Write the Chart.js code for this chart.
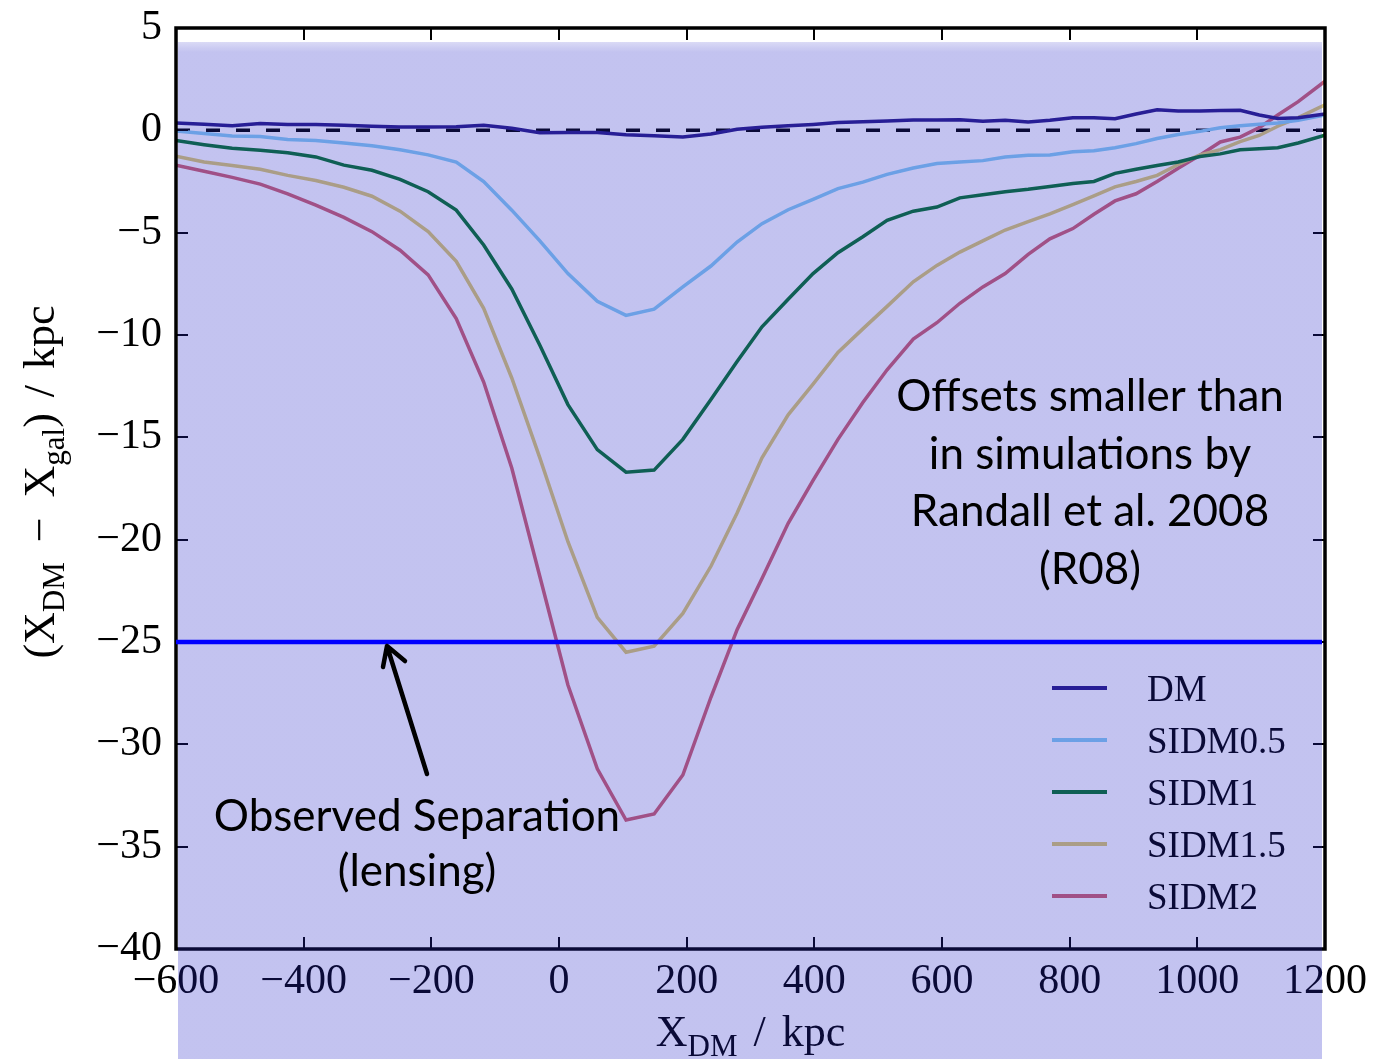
<!DOCTYPE html>
<html>
<head>
<meta charset="utf-8">
<script src="https://cdn.jsdelivr.net/npm/chart.js@4.4.1/dist/chart.umd.min.js"></script>
<style>
  html, body { margin: 0; padding: 0; background: #fff; }
  #wrap { width: 1375px; height: 1059px; position: relative; }
</style>
</head>
<body>
<div id="wrap"><canvas id="chart"></canvas></div>
<script>
// ---- data (x = X_DM in kpc, y = X_DM - X_gal in kpc)
const seriesNames = ["DM", "SIDM0.5", "SIDM1", "SIDM1.5", "SIDM2"];
const xKpc = [-600, -556, -512, -468, -425, -381, -337, -293, -249, -205, -161, -118, -74, -30,
  14, 60, 105, 149, 194, 238, 279, 318, 359, 398, 437, 476, 514, 555,
  592, 628, 664, 699, 735, 769, 805, 838, 871, 904, 937, 970, 1004, 1036, 1067, 1097, 1126, 1158, 1200];
const dm = [0.36, 0.3, 0.23, 0.33, 0.28, 0.28, 0.25, 0.2, 0.16, 0.16, 0.18, 0.25, 0.1, -0.12,
  -0.11, -0.11, -0.22, -0.27, -0.32, -0.18, 0.05, 0.15, 0.22, 0.29, 0.38, 0.42, 0.45, 0.5,
  0.5, 0.52, 0.44, 0.49, 0.41, 0.49, 0.62, 0.62, 0.57, 0.8, 1.0, 0.94, 0.94, 0.97, 0.98, 0.75, 0.58, 0.62, 0.8];
const sidm05 = [-0.03, -0.15, -0.28, -0.3, -0.45, -0.5, -0.62, -0.75, -0.95, -1.2, -1.55, -2.5, -3.9, -5.4,
  -7.0, -8.35, -9.04, -8.74, -7.65, -6.63, -5.46, -4.56, -3.88, -3.37, -2.85, -2.53, -2.15, -1.84,
  -1.62, -1.55, -1.48, -1.3, -1.22, -1.2, -1.05, -1.0, -0.85, -0.65, -0.4, -0.2, -0.05, 0.13, 0.22, 0.3, 0.36, 0.49, 0.75];
const sidm1 = [-0.49, -0.7, -0.88, -0.97, -1.1, -1.3, -1.7, -1.95, -2.4, -3.0, -3.9, -5.6, -7.75, -10.5,
  -13.4, -15.6, -16.7, -16.6, -15.1, -13.15, -11.3, -9.6, -8.25, -7.0, -5.98, -5.2, -4.4, -3.95,
  -3.75, -3.3, -3.15, -3.0, -2.88, -2.74, -2.6, -2.5, -2.1, -1.9, -1.72, -1.55, -1.28, -1.15, -0.95, -0.9, -0.85, -0.62, -0.24];
const sidm15 = [-1.27, -1.55, -1.72, -1.9, -2.2, -2.45, -2.78, -3.22, -3.95, -4.95, -6.4, -8.7, -12.1, -16.0,
  -20.1, -23.8, -25.5, -25.2, -23.6, -21.3, -18.7, -16.0, -13.9, -12.4, -10.85, -9.7, -8.6, -7.4,
  -6.6, -5.95, -5.4, -4.87, -4.46, -4.08, -3.63, -3.2, -2.76, -2.5, -2.2, -1.67, -1.2, -0.94, -0.55, -0.25, 0.2, 0.62, 1.25];
const sidm2 = [-1.71, -2.0, -2.3, -2.63, -3.1, -3.65, -4.25, -4.95, -5.86, -7.06, -9.2, -12.3, -16.5, -21.8,
  -27.1, -31.2, -33.7, -33.4, -31.5, -27.7, -24.4, -21.9, -19.2, -17.1, -15.1, -13.3, -11.7, -10.2,
  -9.4, -8.45, -7.65, -7.0, -6.06, -5.3, -4.8, -4.1, -3.45, -3.1, -2.5, -1.85, -1.22, -0.57, -0.33, 0.13, 0.75, 1.4, 2.4];
const observedSeparation = -25;
const xTickValues = [-600, -400, -200, 0, 200, 400, 600, 800, 1000, 1200];
const yTickValues = [-40, -35, -30, -25, -20, -15, -10, -5, 0, 5];

// ---- styles
const lineColors = ["rgb(41,28,131)", "rgb(135,207,241)", "rgb(7,117,41)", "rgb(221,203,110)", "rgb(207,97,110)"];
const serif = '"Liberation Serif", "DejaVu Serif", serif';
const sans = 'Lato, "Open Sans", sans-serif';

function fmt(v) {
  return v < 0 ? "\u2212" + Math.abs(v) : String(v);
}

// draw a string made of normal and subscript parts, starting at x (baseline y)
function drawParts(ctx, parts, x, y, size, subSize, measureOnly) {
  let w = 0;
  parts.forEach(p => {
    if (p.gap) { w += p.gap; return; }
    ctx.font = (p.sub ? subSize : size) + "px " + serif;
    if (!measureOnly) ctx.fillText(p.t, x + w, y + (p.sub ? Math.round(size * 0.22) : 0));
    w += ctx.measureText(p.t).width;
  });
  return w;
}

const slidePlugin = {
  id: "slide",
  beforeDatasetsDraw(chart) {
    const { ctx, chartArea: a, scales } = chart;
    const y0 = scales.y.getPixelForValue(0);
    ctx.save();
    ctx.strokeStyle = "#000";
    ctx.lineWidth = 3.5;
    ctx.setLineDash([14, 16]);
    ctx.beginPath();
    ctx.moveTo(a.left, y0);
    ctx.lineTo(a.right, y0);
    ctx.stroke();
    ctx.restore();
  },
  afterDraw(chart) {
    const { ctx, chartArea: a, scales } = chart;
    ctx.save();

    // frame and inward ticks, matplotlib style
    ctx.strokeStyle = "#000";
    ctx.lineWidth = 2;
    xTickValues.forEach(v => {
      const px = Math.round(scales.x.getPixelForValue(v));
      ctx.beginPath();
      ctx.moveTo(px, a.bottom); ctx.lineTo(px, a.bottom - 12);
      ctx.moveTo(px, a.top); ctx.lineTo(px, a.top + 12);
      ctx.stroke();
    });
    yTickValues.forEach(v => {
      const py = Math.round(scales.y.getPixelForValue(v));
      ctx.beginPath();
      ctx.moveTo(a.left, py); ctx.lineTo(a.left + 12, py);
      ctx.moveTo(a.right, py); ctx.lineTo(a.right - 12, py);
      ctx.stroke();
    });
    ctx.lineWidth = 3.5;
    ctx.strokeRect(a.left, a.top, a.right - a.left, a.bottom - a.top);

    // legend, lower right inside the axes
    chart.data.datasets.forEach((ds, i) => {
      const ly = 688 + 52 * i;
      ctx.strokeStyle = ds.borderColor;
      ctx.lineWidth = 4;
      ctx.beginPath();
      ctx.moveTo(1052, ly); ctx.lineTo(1107, ly);
      ctx.stroke();
      ctx.fillStyle = "#000";
      ctx.font = "37px " + serif;
      ctx.textAlign = "left";
      ctx.textBaseline = "alphabetic";
      ctx.fillText(ds.label, 1147, ly + 13);
    });

    // axis titles
    ctx.fillStyle = "#000";
    ctx.textAlign = "left";
    ctx.textBaseline = "alphabetic";
    const xTitle = [{ t: "X" }, { t: "DM", sub: true }, { gap: 16 }, { t: "/" }, { gap: 16 }, { t: "kpc" }];
    const xw = drawParts(ctx, xTitle, 0, 0, 44, 31, true);
    drawParts(ctx, xTitle, (a.left + a.right) / 2 - xw / 2, 1046, 44, 31);

    const yTitle = [{ t: "(X" }, { t: "DM", sub: true }, { gap: 20 }, { t: "\u2212" }, { gap: 20 },
      { t: "X" }, { t: "gal", sub: true }, { t: ")" }, { gap: 16 }, { t: "/" }, { gap: 16 }, { t: "kpc" }];
    const yw = drawParts(ctx, yTitle, 0, 0, 44, 31, true);
    ctx.save();
    ctx.translate(54, 482);
    ctx.rotate(-Math.PI / 2);
    drawParts(ctx, yTitle, -yw / 2, 0, 44, 31);
    ctx.restore();

    // translucent slide box laid over the plot
    const g = ctx.createLinearGradient(0, 42, 0, 52);
    g.addColorStop(0, "rgba(36,36,200,0.17)");
    g.addColorStop(1, "rgba(36,36,200,0.275)");
    ctx.fillStyle = g;
    ctx.fillRect(178, 42, 1322 - 178, 1059 - 42);

    // observed separation line
    const ys = scales.y.getPixelForValue(observedSeparation);
    ctx.strokeStyle = "#0000ff";
    ctx.lineWidth = 4.5;
    ctx.beginPath();
    ctx.moveTo(a.left, ys); ctx.lineTo(a.right - 3, ys);
    ctx.stroke();

    // arrow
    ctx.strokeStyle = "#000";
    ctx.lineWidth = 4.5;
    ctx.lineCap = "round";
    ctx.lineJoin = "round";
    ctx.beginPath();
    ctx.moveTo(427, 774); ctx.lineTo(387, ys + 4);
    ctx.moveTo(383, ys + 25); ctx.lineTo(387, ys + 4); ctx.lineTo(405, ys + 19);
    ctx.stroke();

    // annotations
    ctx.fillStyle = "#000";
    ctx.textAlign = "center";
    ctx.textBaseline = "middle";
    ctx.font = "44px " + sans;
    ["Offsets smaller than", "in simulations by", "Randall et al. 2008", "(R08)"].forEach((t, i) => {
      ctx.fillText(t, 1090, 397 + 57.5 * i);
    });
    ctx.fillText("Observed Separation", 417, 817);
    ctx.fillText("(lensing)", 417, 872);
    ctx.restore();
  }
};

const series = [dm, sidm05, sidm1, sidm15, sidm2];
const datasets = series.map((ys, i) => ({
  label: seriesNames[i],
  data: xKpc.map((x, j) => ({ x: x, y: ys[j] })),
  borderColor: lineColors[i],
  borderWidth: 3.5,
  pointRadius: 0,
  tension: 0,
  fill: false
}));

new Chart(document.getElementById("chart"), {
  type: "line",
  data: { datasets: datasets },
  options: {
    responsive: true,
    maintainAspectRatio: false,
    animation: false,
    devicePixelRatio: 1,
    layout: { padding: { top: 28, right: 50, left: 0, bottom: 0 } },
    plugins: { legend: { display: false }, tooltip: { enabled: false } },
    scales: {
      x: {
        type: "linear",
        min: -600, max: 1200,
        grid: { display: false, drawTicks: false },
        border: { display: false },
        afterBuildTicks: s => { s.ticks = xTickValues.map(v => ({ value: v })); },
        afterFit: s => { s.height = 110; s.paddingLeft = 0; s.paddingRight = 0; },
        ticks: { color: "#000", padding: 8, maxRotation: 0, font: { family: serif, size: 42 }, callback: fmt }
      },
      y: {
        type: "linear",
        min: -40, max: 5,
        grid: { display: false, drawTicks: false },
        border: { display: false },
        afterBuildTicks: s => { s.ticks = yTickValues.map(v => ({ value: v })); },
        afterFit: s => { s.width = 176; s.paddingTop = 0; s.paddingBottom = 0; },
        ticks: { color: "#000", padding: 14, font: { family: serif, size: 42 }, callback: fmt }
      }
    }
  },
  plugins: [slidePlugin]
});
</script>
</body>
</html>
